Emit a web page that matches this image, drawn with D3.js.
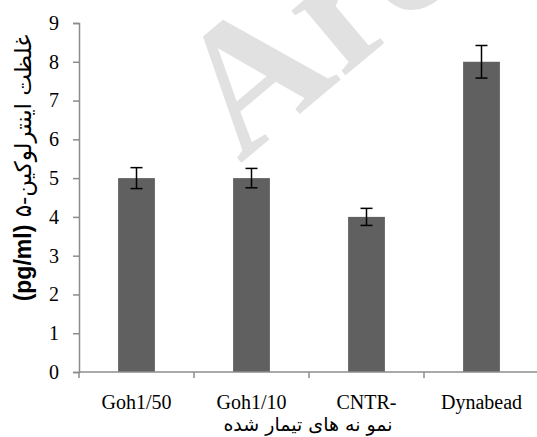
<!DOCTYPE html>
<html>
<head>
<meta charset="utf-8">
<script src="https://cdn.jsdelivr.net/npm/d3@7"></script>
<style>
  body { margin: 0; background: #fff; }
</style>
</head>
<body>
<svg id="chart" width="537" height="437"></svg>
<script>
const categories = ["Goh1/50", "Goh1/10", "CNTR-", "Dynabead"];
const values = [5, 5, 4, 8];
const errors = [0.27, 0.25, 0.22, 0.42];
const yTicks = [0, 1, 2, 3, 4, 5, 6, 7, 8, 9];

const serif = "Liberation Serif, DejaVu Serif, serif";
const svg = d3.select("#chart");
const margin = { left: 79, right: -2, top: 23, bottom: 65 };
const width = 537 - margin.left - margin.right;
const height = 437 - margin.top - margin.bottom;

// faint watermark behind the plot
svg.append("text")
    .attr("transform", "translate(240,164) rotate(-40)")
    .attr("font-family", serif)
    .attr("font-size", 184)
    .attr("font-weight", "bold")
    .attr("fill", "#e1e1e1")
    .text("Arc");

const g = svg.append("g").attr("transform", `translate(${margin.left},${margin.top})`);

const x = d3.scaleBand().domain(categories).range([0, width]).paddingInner(0).paddingOuter(0);
const y = d3.scaleLinear().domain([0, 9]).range([height, 0]);

const barW = x.bandwidth() * 0.32;

g.selectAll(".bar").data(values).join("rect")
    .attr("class", "bar")
    .attr("x", (d, i) => x(categories[i]) + x.bandwidth() / 2 - barW / 2)
    .attr("y", d => y(d))
    .attr("width", barW)
    .attr("height", d => y(0) - y(d))
    .attr("fill", "#606060");

// error bars
const eb = g.selectAll(".err").data(values).join("g").attr("class", "err")
    .attr("transform", (d, i) => `translate(${x(categories[i]) + x.bandwidth() / 2},0)`);
eb.append("line")
    .attr("y1", (d, i) => y(d + errors[i])).attr("y2", (d, i) => y(d - errors[i]))
    .attr("stroke", "#000").attr("stroke-width", 1.5);
eb.append("line")
    .attr("x1", -6).attr("x2", 6)
    .attr("y1", (d, i) => y(d + errors[i])).attr("y2", (d, i) => y(d + errors[i]))
    .attr("stroke", "#000").attr("stroke-width", 1.5);
eb.append("line")
    .attr("x1", -6).attr("x2", 6)
    .attr("y1", (d, i) => y(d - errors[i])).attr("y2", (d, i) => y(d - errors[i]))
    .attr("stroke", "#000").attr("stroke-width", 1.5);

// y axis
const yAxis = g.append("g").call(d3.axisLeft(y).tickValues(yTicks).tickSize(6).tickPadding(14));
yAxis.attr("font-family", serif).attr("font-size", 20);
yAxis.selectAll("text").attr("fill", "#000");
yAxis.select(".domain").attr("stroke", "#8c8c8c").attr("stroke-width", 1.5);
yAxis.selectAll(".tick line").attr("stroke", "#8c8c8c").attr("stroke-width", 1.5);

// x axis with ticks at band boundaries
const xAxis = g.append("g").attr("transform", `translate(0,${height})`);
xAxis.append("line").attr("x1", 0).attr("x2", width).attr("stroke", "#8c8c8c").attr("stroke-width", 1.5);
xAxis.selectAll(".bt").data(categories).join("line")
    .attr("x1", d => x(d)).attr("x2", d => x(d))
    .attr("y1", 0).attr("y2", 6)
    .attr("stroke", "#8c8c8c").attr("stroke-width", 1.5);
xAxis.selectAll(".lbl").data(categories).join("text")
    .attr("x", d => x(d) + x.bandwidth() / 2)
    .attr("y", 37)
    .attr("text-anchor", "middle")
    .attr("font-family", serif)
    .attr("font-size", 20)
    .attr("fill", "#000")
    .text(d => d);

// x axis title
svg.append("text")
    .attr("x", 308).attr("y", 431)
    .attr("text-anchor", "middle")
    .attr("direction", "rtl")
    .attr("font-size", 19)
    .attr("font-family", "DejaVu Sans, sans-serif")
    .text("نمو نه های تیمار شده");

// y axis title
const yt = svg.append("text")
    .attr("transform", "translate(31,168) rotate(-90)")
    .attr("text-anchor", "middle")
    .attr("direction", "rtl")
    .attr("font-family", "DejaVu Sans, sans-serif")
    .attr("font-size", 23);
yt.append("tspan").text("غلظت اینترلوکین-۵ ");
yt.append("tspan").attr("font-family", "Liberation Sans, Arial, sans-serif")
    .attr("font-weight", "bold").attr("font-size", 23).text("(pg/ml)");
</script>
</body>
</html>
